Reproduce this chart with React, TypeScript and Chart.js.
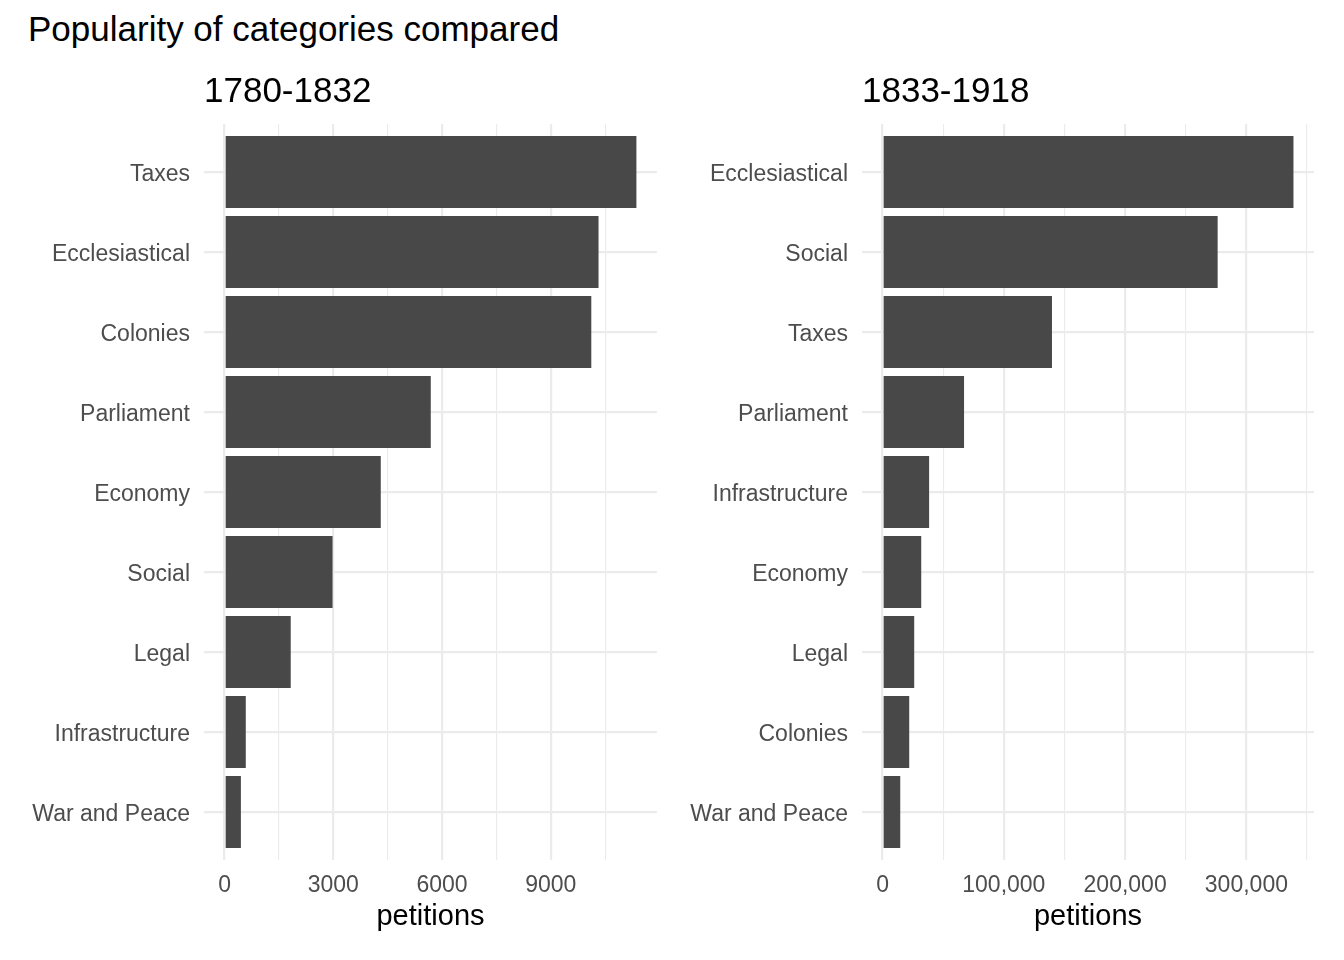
import { useEffect, useRef } from 'react';
import Chart from 'chart.js/auto';

const FONT = '"Liberation Sans", Arial, Helvetica, sans-serif';
const BAR = '#484848';
const GRID = '#ebebeb';
const TICK_TEXT = '#4d4d4d';

// 1780-1832 panel
const earlyCategories = [
  'Taxes',
  'Ecclesiastical',
  'Colonies',
  'Parliament',
  'Economy',
  'Social',
  'Legal',
  'Infrastructure',
  'War and Peace'
];
const earlyPetitions = [11365, 10320, 10120, 5690, 4310, 2980, 1825, 585, 450];
const earlyTicks = [0, 1500, 3000, 4500, 6000, 7500, 9000, 10500];
const earlyLabelled = [0, 3000, 6000, 9000];

// 1833-1918 panel
const lateCategories = [
  'Ecclesiastical',
  'Social',
  'Taxes',
  'Parliament',
  'Infrastructure',
  'Economy',
  'Legal',
  'Colonies',
  'War and Peace'
];
const latePetitions = [338800, 276300, 139700, 67200, 38400, 31900, 26100, 22000, 14600];
const lateTicks = [0, 50000, 100000, 150000, 200000, 250000, 300000, 350000];
const lateLabelled = [0, 100000, 200000, 300000];

interface PanelProps {
  title: string;
  categories: string[];
  values: number[];
  ticks: number[];
  labelled: number[];
  format: (v: number) => string;
  axisWidth: number;
  padRight: number;
  left: number;
}

function Panel({ title, categories, values, ticks, labelled, format, axisWidth, padRight, left }: PanelProps) {
  const ref = useRef<HTMLCanvasElement | null>(null);

  useEffect(() => {
    if (!ref.current) return;
    const top = Math.max(...values);
    const chart = new Chart(ref.current, {
      type: 'bar',
      data: {
        datasets: [
          {
            data: values.map((v, i) => ({ x: v, y: i })),
            backgroundColor: BAR,
            borderWidth: 0,
            barPercentage: 0.9,
            categoryPercentage: 1
          }
        ]
      },
      options: {
        indexAxis: 'y',
        responsive: false,
        animation: false,
        layout: { padding: { top: 0, right: padRight, bottom: 0, left: 0 } },
        plugins: {
          legend: { display: false },
          tooltip: { enabled: false },
          title: {
            display: true,
            text: title,
            align: 'start',
            fullSize: false,
            color: '#000',
            font: { family: FONT, size: 35, weight: 'normal', lineHeight: 1.2 },
            padding: { top: 71.5, bottom: 10.5 }
          }
        },
        scales: {
          x: {
            type: 'linear',
            min: -0.05 * top,
            max: 1.05 * top,
            afterBuildTicks: (s: any) => {
              s.ticks = ticks.map((value) => ({ value }));
            },
            afterFit: (s: any) => {
              s.height = 100;
            },
            ticks: {
              callback: (v: any) => (labelled.includes(Number(v)) ? format(Number(v)) : ''),
              color: TICK_TEXT,
              font: { family: FONT, size: 23 },
              padding: 11.5,
              maxRotation: 0,
              autoSkip: false
            },
            grid: {
              color: GRID,
              lineWidth: (ctx: any) => (ctx.tick && labelled.includes(ctx.tick.value) ? 2.2 : 1.1),
              drawTicks: false
            },
            border: { display: false },
            title: {
              display: true,
              text: 'petitions',
              color: '#000',
              font: { family: FONT, size: 29, lineHeight: 1.2 },
              padding: { top: 0, bottom: 26 }
            }
          },
          y: {
            type: 'linear',
            reverse: true,
            offset: false,
            min: -0.6,
            max: categories.length - 0.4,
            afterBuildTicks: (s: any) => {
              s.ticks = categories.map((_, i) => ({ value: i }));
            },
            afterFit: (s: any) => {
              s.width = axisWidth;
            },
            ticks: {
              callback: (v: any) => categories[Number(v)] ?? '',
              color: TICK_TEXT,
              font: { family: FONT, size: 23 },
              padding: 14,
              labelOffset: 3,
              autoSkip: false
            },
            grid: { color: GRID, lineWidth: 2.2, drawTicks: false, offset: false },
            border: { display: false }
          }
        }
      }
    });
    return () => chart.destroy();
  }, []);

  return (
    <canvas
      ref={ref}
      width={672}
      height={960}
      style={{ position: 'absolute', left, top: 0, display: 'block' }}
    />
  );
}

export default function App() {
  return (
    <div style={{ position: 'absolute', left: 0, top: 0, width: 1344, height: 960, background: '#fff', overflow: 'hidden' }}>
      <div
        style={{
          position: 'absolute',
          left: 28,
          top: 11,
          fontFamily: FONT,
          fontSize: 35,
          lineHeight: '35px',
          color: '#000',
          whiteSpace: 'nowrap'
        }}
      >
        Popularity of categories compared
      </div>
      <Panel
        title="1780-1832"
        categories={earlyCategories}
        values={earlyPetitions}
        ticks={earlyTicks}
        labelled={earlyLabelled}
        format={(v) => String(v)}
        axisWidth={204}
        padRight={15}
        left={0}
      />
      <Panel
        title="1833-1918"
        categories={lateCategories}
        values={latePetitions}
        ticks={lateTicks}
        labelled={lateLabelled}
        format={(v) => v.toLocaleString('en-US')}
        axisWidth={190}
        padRight={30}
        left={672}
      />
    </div>
  );
}
